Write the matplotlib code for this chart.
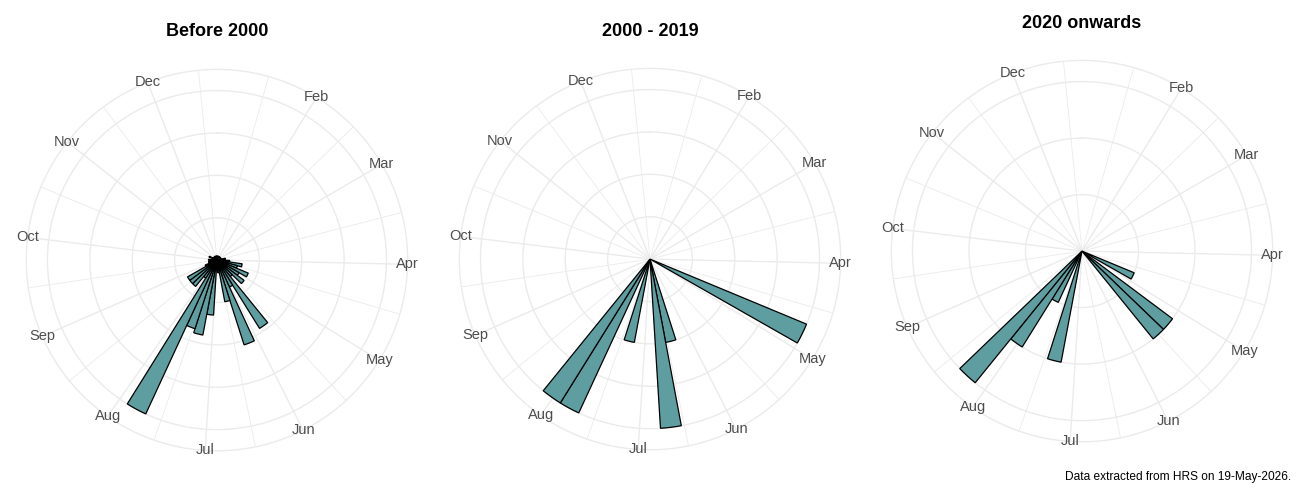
import numpy as np
import matplotlib
matplotlib.use("Agg")
import matplotlib.pyplot as plt

plt.rcParams["font.family"] = ["Liberation Sans", "DejaVu Sans"]

# month breaks (day of year) and labels; Jan falls outside the theta range
month_days = [32, 60, 91, 121, 152, 182, 213, 244, 274, 305, 335]
month_labels = ["Feb", "Mar", "Apr", "May", "Jun", "Jul", "Aug", "Sep", "Oct", "Nov", "Dec"]

# weekly bins: bin k covers days 7k .. 7k+7
before_2000_week = [0, 2, 5, 7, 9, 10, 11, 12, 13, 14, 15, 16, 17, 18, 19, 20, 21, 22, 23, 24,
                    25, 26, 27, 28, 29, 30, 31, 32, 33, 34, 35, 36, 37, 38, 40, 41, 43, 45, 47, 49]
before_2000_n = [1, 1, 1, 1, 1, 1, 2, 2, 3, 6, 5, 8, 6, 8, 5, 19, 7, 21, 10, 3,
                 2, 13, 18, 17, 40, 5, 8, 8, 8, 3, 2, 2, 1, 2, 1, 2, 1, 1, 1, 1]

mid_week = [16, 23, 24, 27, 29, 30]
mid_n = [4, 2, 4, 2, 4, 4]

recent_week = [16, 18, 19, 27, 29, 30, 31]
recent_n = [1, 2, 2, 2, 1, 2, 3]

titles = ["Before 2000", "2000 - 2019", "2020 onwards"]
r_breaks = [[10, 20, 30, 40], [1, 2, 3, 4], [1, 2, 3]]

DAY0 = 1
DAY_SPAN = 355
BIN = 7
GRID = "#EBEBEB"
FILL = "#5F9EA0"


def day_to_theta(d):
    return (np.asarray(d, dtype=float) - DAY0) / DAY_SPAN * 2 * np.pi


fig = plt.figure(figsize=(13, 5), dpi=100)

# panel geometry (fig fractions) and title heights
boxes = [[0.0202, 0.0984, 0.2934, 0.7628],
         [0.3533, 0.1004, 0.2934, 0.7628],
         [0.6856, 0.1164, 0.2934, 0.7628]]
title_y = [0.936, 0.936, 0.954]

all_weeks = [before_2000_week, mid_week, recent_week]
all_n = [before_2000_n, mid_n, recent_n]

# minor breaks halfway between month starts (incl. around Jan)
ext_days = [1] + month_days + [366]
minor_days = [(a + b) / 2 for a, b in zip(ext_days[:-1], ext_days[1:])]

for i in range(3):
    ax = fig.add_axes(boxes[i], projection="polar")
    ax.set_theta_zero_location("N")
    ax.set_theta_direction(-1)

    weeks = np.array(all_weeks[i])
    n = np.array(all_n[i])
    top = max(n)
    rmax = top * 0.45 / 0.4

    ax.set_xticks(day_to_theta(month_days))
    ax.set_xticklabels([])
    ax.set_xticks(day_to_theta(minor_days), minor=True)
    ax.set_yticks(r_breaks[i])
    ax.set_yticklabels([])
    ax.tick_params(length=0, which="both")
    ax.grid(True, which="major", color=GRID, lw=1.0)
    ax.grid(True, which="minor", axis="x", color=GRID, lw=0.6)
    ax.set_ylim(0, rmax)
    ax.spines["polar"].set_color(GRID)
    ax.spines["polar"].set_linewidth(1.0)
    ax.set_axisbelow(True)

    ax.bar(day_to_theta(weeks * BIN), n, width=BIN / DAY_SPAN * 2 * np.pi,
           align="edge", bottom=0, color=FILL, edgecolor="black", linewidth=0.9, zorder=3)

    for d, lab in zip(month_days, month_labels):
        ax.text(day_to_theta(d), rmax, lab, ha="center", va="center",
                fontsize=10.5, color="#4D4D4D", clip_on=False)

    fig.text(boxes[i][0] + boxes[i][2] / 2, title_y[i], titles[i],
             ha="center", va="center", fontsize=13, fontweight="bold")

fig.text(0.9935, 0.046, "Data extracted from HRS on 19-May-2026.", ha="right", va="center",
         fontsize=8.6)

fig.savefig("out.png", dpi=100)
